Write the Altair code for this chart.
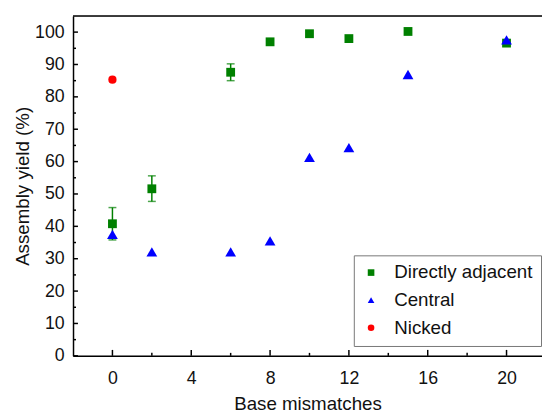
import altair as alt
import pandas as pd

# Data
adj_x = [0, 2, 6, 8, 10, 12, 15, 20]
adj_y = [40.8, 51.6, 87.6, 97.0, 99.5, 98.0, 100.2, 96.6]
adj_lo = [35.8, 47.7, 85.0, None, None, None, None, None]
adj_hi = [45.8, 55.6, 90.2, None, None, None, None, None]

cen_x = [0, 2, 6, 8, 10, 12, 15, 20]
cen_y = [37.5, 32.1, 32.1, 35.5, 61.3, 64.3, 86.9, 97.6]

nick_x = [0]
nick_y = [85.3]

series = ["Directly adjacent", "Central", "Nicked"]
colors = ["#008000", "#0000ff", "#ff0000"]
shapes = ["square", "triangle-up", "circle"]
sizes = [80, 120, 70]

y_major = list(range(0, 101, 10))
y_minor = list(range(5, 100, 10))
x_major = [0, 4, 8, 12, 16, 20]
x_minor = [2, 6, 10, 14, 18]

W, H = 476, 345
FONT = "Liberation Sans"

rows = []
for x, y in zip(adj_x, adj_y):
    rows.append({"x": x, "y": y, "s": series[0]})
for x, y in zip(cen_x, cen_y):
    rows.append({"x": x, "y": y, "s": series[1]})
for x, y in zip(nick_x, nick_y):
    rows.append({"x": x, "y": y, "s": series[2]})
df = pd.DataFrame(rows)

err = pd.DataFrame([
    {"x": x, "lo": lo, "hi": hi}
    for x, lo, hi in zip(adj_x, adj_lo, adj_hi) if lo is not None
])

xs = alt.Scale(domain=[-2, 21.8], nice=False, zero=False)
ys = alt.Scale(domain=[0, 105], nice=False, zero=False)

xaxis = alt.Axis(values=x_major, ticks=False, tickSize=0, grid=False, labelOverlap=False,
                 labelFontSize=18, labelFont=FONT, labelColor="#111",
                 labelPadding=14, title="Base mismatches", titleFontSize=19,
                 titleFont=FONT, titleFontWeight="normal", titleColor="#111",
                 titlePadding=7, domainColor="black", domainWidth=1.5)
yaxis = alt.Axis(values=y_major, ticks=False, tickSize=0, grid=False, labelOverlap=False,
                 labelFontSize=18, labelFont=FONT, labelColor="#111",
                 labelPadding=9, title="Assembly yield (%)", titleFontSize=19,
                 titleFont=FONT, titleFontWeight="normal", titleColor="#111",
                 titlePadding=2, domainColor="black", domainWidth=1.5)

color = alt.Color("s:N", scale=alt.Scale(domain=series, range=colors),
                  legend=alt.Legend(title=None, orient="none", legendX=285, legendY=243,
                                    labelFontSize=19, labelFont=FONT, labelColor="#111",
                                    symbolSize=45, rowPadding=8, padding=8,
                                    strokeColor="#777", fillColor="white",
                                    symbolStrokeWidth=0, labelOffset=14,
                                    cornerRadius=0))
shape = alt.Shape("s:N", scale=alt.Scale(domain=series, range=shapes), legend=None)


def X(f):
    return alt.X(f, type="quantitative", scale=xs, axis=xaxis)


def Y(f):
    return alt.Y(f, type="quantitative", scale=ys, axis=yaxis)


point_layers = []
for s, sz in zip(series, sizes):
    point_layers.append(
        alt.Chart(df).transform_filter(alt.datum.s == s).mark_point(
            filled=True, opacity=1, size=sz).encode(
            x=X("x"), y=Y("y"), color=color, shape=shape,
        )
    )

ebar = alt.Chart(err).mark_rule(color="#008000", strokeWidth=1.5).encode(
    x=X("x"), y=Y("lo"), y2="hi:Q")
cap_lo = alt.Chart(err).mark_tick(color="#008000", thickness=1.5, size=8, orient="horizontal").encode(
    x=X("x"), y=Y("lo"))
cap_hi = alt.Chart(err).mark_tick(color="#008000", thickness=1.5, size=8, orient="horizontal").encode(
    x=X("x"), y=Y("hi"))

ymaj = alt.Chart(pd.DataFrame({"v": y_major})).mark_rule(color="black", strokeWidth=1.5).encode(
    y=Y("v"), x=alt.value(0), x2=alt.value(5))
ymin = alt.Chart(pd.DataFrame({"v": y_minor})).mark_rule(color="black", strokeWidth=1.5).encode(
    y=Y("v"), x=alt.value(0), x2=alt.value(3))
xmaj = alt.Chart(pd.DataFrame({"v": x_major})).mark_rule(color="black", strokeWidth=1.5).encode(
    x=X("v"), y=alt.value(H), y2=alt.value(H - 6))
xmin = alt.Chart(pd.DataFrame({"v": x_minor})).mark_rule(color="black", strokeWidth=1.5).encode(
    x=X("v"), y=alt.value(H), y2=alt.value(H - 3))
top = alt.Chart(pd.DataFrame({"v": [0]})).mark_rule(color="black", strokeWidth=1.5).encode(
    x=alt.value(0), x2=alt.value(W), y=alt.value(0))

chart = alt.layer(ymaj, ymin, xmaj, xmin, top, ebar, cap_lo, cap_hi, *point_layers).properties(
    width=W, height=H,
    autosize=alt.AutoSizeParams(type="none"),
    padding={"left": 66, "top": 5, "right": 0, "bottom": 56},
).configure_view(stroke=None).configure(background="white")

chart.save("out.html", embed_options={"renderer": "svg", "actions": False})
